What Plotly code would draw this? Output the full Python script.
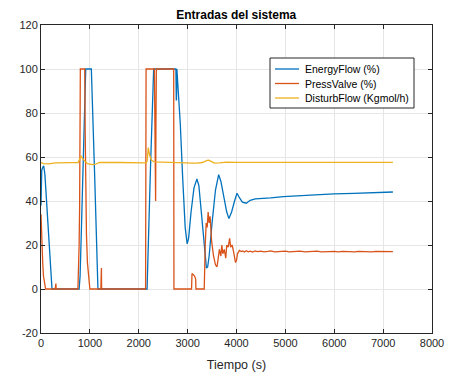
import plotly.graph_objects as go

# --- EnergyFlow (%) ---
t_energy = [0, 5, 15, 30, 55, 80, 120, 170, 225, 780, 790, 800, 830, 870, 915, 1000, 1030, 1100, 1165,
            2170, 2185, 2195, 2240, 2305, 2760, 2768, 2772, 2780, 2800, 2850, 2900, 2950, 2990,
            3020, 3070, 3130, 3190, 3230, 3280, 3340, 3385, 3410, 3440, 3500, 3570, 3635,
            3680, 3740, 3800, 3845, 3900, 3960, 4010, 4060, 4120, 4200, 4280, 4385, 4500,
            4700, 4960, 5300, 5600, 5990, 6400, 6800, 7200]
energy = [38, 50, 54, 55, 56, 52, 38, 20, 0, 0, 4, 6, 30, 65, 100, 100, 100, 50, 0,
          0, 10, 15, 55, 100, 100, 86, 86, 100, 93, 75, 50, 28, 20.5,
          23, 35, 46, 50, 47, 35, 18, 9.5, 10, 15, 30, 45, 52,
          49, 42, 35, 32, 35, 40, 43.5, 41.5, 39.5, 39, 40.3, 41, 41.1,
          41.4, 42, 42.5, 42.9, 43.2, 43.5, 43.8, 44.1]

# --- PressValve (%) ---
t_press = [0, 10, 20, 35, 50, 70, 95, 290, 295, 305, 310, 755, 780, 790, 805, 895, 905, 915, 930,
           950, 975, 1000, 1225, 1228, 1236, 1240, 2140, 2150, 2320, 2330, 2345, 2352, 2360,
           2715, 2720, 3080, 3090, 3140, 3165, 3170, 3340, 3360, 3380, 3400, 3420, 3440, 3460,
           3490, 3530, 3570, 3600, 3620, 3650, 3680, 3700, 3720, 3750, 3780, 3800, 3830, 3860,
           3880, 3910, 3940, 3980, 4000, 4020, 4060, 4100, 4130, 4160, 4200, 4240, 4280, 4330,
           4380, 4430, 4500, 4560, 4640, 4700, 4780, 4850, 4930, 5000, 5080, 5150, 5230, 5300,
           5400, 5480, 5560, 5650, 5730, 5820, 5900, 6000, 6080, 6170, 6250, 6340, 6420, 6500,
           6600, 6680, 6770, 6850, 6940, 7020, 7110, 7200]
press = [34, 25, 18, 12, 6, 2, 0, 0, 2.5, 2.5, 0, 0, 20, 37, 100, 100, 70, 45, 25,
         12, 5, 0, 0, 9.5, 9.5, 0, 0, 100, 100, 60, 40, 75, 100,
         100, 0, 0, 7, 6, 4.5, 0, 0, 20, 30, 28, 35, 30, 33,
         22, 15, 11, 10, 13, 18, 15, 20, 16, 18, 14, 20, 19, 23,
         19, 20, 17, 12, 13, 16, 17.5, 17.0, 17.3, 16.8, 17.4, 16.9, 17.2, 16.8,
         17.3, 17.0, 17.2, 16.9, 17.1, 17.3, 16.9, 17.1, 17.0, 17.2, 16.9, 17.1, 17.0, 17.2,
         16.9, 17.1, 17.0, 17.2, 16.9, 17.1, 17.0, 17.1, 16.9, 17.1, 17.0, 17.2, 16.9, 17.1,
         17.0, 17.1, 16.9, 17.1, 17.0, 17.1, 16.9, 17.0]

# --- DisturbFlow (Kgmol/h) ---
t_disturb = [0, 50, 150, 300, 600, 760, 800, 820, 860, 900, 950, 1050, 1100, 1200, 1300, 1600,
             2150, 2170, 2195, 2220, 2260, 2320, 2500, 2800, 3000, 3100, 3200, 3300, 3400,
             3430, 3480, 3550, 3650, 3800, 4000, 5000, 6000, 7200]
disturb = [57.5, 57.0, 56.9, 57.3, 57.4, 57.5, 59.5, 60.3, 59.0, 58.0, 57.0, 56.5, 56.6, 57.5, 57.6,
           57.5, 57.3, 58.0, 64.3, 61.0, 58.5, 57.8, 57.6, 57.4, 57.3, 57.2, 57.2, 57.5, 58.5,
           58.6, 58.0, 57.2, 57.3, 57.7, 57.6, 57.6, 57.6, 57.6]

x_ticks = [0, 1000, 2000, 3000, 4000, 5000, 6000, 7000, 8000]
y_ticks = [-20, 0, 20, 40, 60, 80, 100, 120]
y_labels = ["-20", "0", "20", "40", "60", "80", "100", "120"]

series_names = ["EnergyFlow (%)", "PressValve (%)", "DisturbFlow (Kgmol/h)"]
series_colors = ["#0072BD", "#D95319", "#EDB120"]

FONT = "Liberation Sans, Arial, Helvetica, sans-serif"
AXIS_COLOR = "#262626"

# plot-area geometry in pixels (used to place the compact legend box)
W, H = 450, 375
ML, MR, MT, MB = 41, 18, 25, 42
PW, PH = W - ML - MR, H - MT - MB


def px_x(px):
    return (px - ML) / PW


def px_y(py):
    return 1 - (py - MT) / PH


fig = go.Figure()
for tx, vals, name, color in zip([t_energy, t_press, t_disturb], [energy, press, disturb],
                                 series_names, series_colors):
    fig.add_trace(go.Scatter(x=tx, y=vals, mode="lines", name=name, showlegend=False,
                             line=dict(color=color, width=1.3)))

# compact legend box (MATLAB style)
shapes = [dict(type="rect", xref="paper", yref="paper",
               x0=px_x(270), x1=px_x(414), y0=px_y(108), y1=px_y(58),
               line=dict(color=AXIS_COLOR, width=1), fillcolor="white", layer="above")]
annotations = []
for i, (name, color) in enumerate(zip(series_names, series_colors)):
    yy = px_y(69 + i * 14.5)
    shapes.append(dict(type="line", xref="paper", yref="paper",
                       x0=px_x(275), x1=px_x(299), y0=yy, y1=yy,
                       line=dict(color=color, width=1.3), layer="above"))
    annotations.append(dict(xref="paper", yref="paper", x=px_x(303), y=yy,
                            xanchor="left", yanchor="middle", text=name, showarrow=False,
                            font=dict(family=FONT, size=10.5, color="#000000")))

axis_common = dict(
    showline=True, linecolor=AXIS_COLOR, linewidth=1, mirror="ticks",
    ticks="inside", ticklen=4, tickcolor=AXIS_COLOR, tickwidth=1,
    showgrid=True, gridcolor="#e6e6e6", gridwidth=1, zeroline=False,
    tickfont=dict(family=FONT, size=11, color=AXIS_COLOR),
    automargin=False,
)

fig.update_layout(
    width=W, height=H,
    margin=dict(l=ML, r=MR, t=MT, b=MB),
    paper_bgcolor="white", plot_bgcolor="white",
    font=dict(family=FONT, color=AXIS_COLOR),
    title=dict(text="<b>Entradas del sistema</b>", x=0.525, xanchor="center",
               y=0.96, yanchor="middle", automargin=False,
               font=dict(family=FONT, size=12, color="#000000")),
    xaxis=dict(range=[0, 8000], tickvals=x_ticks,
               title=dict(text="Tiempo (s)", font=dict(family=FONT, size=12.5, color=AXIS_COLOR),
                          standoff=12),
               **axis_common),
    yaxis=dict(range=[-20, 120], tickvals=y_ticks, ticktext=y_labels, **axis_common),
    shapes=shapes,
    annotations=annotations,
    showlegend=False,
)

fig.write_html("out.html")
